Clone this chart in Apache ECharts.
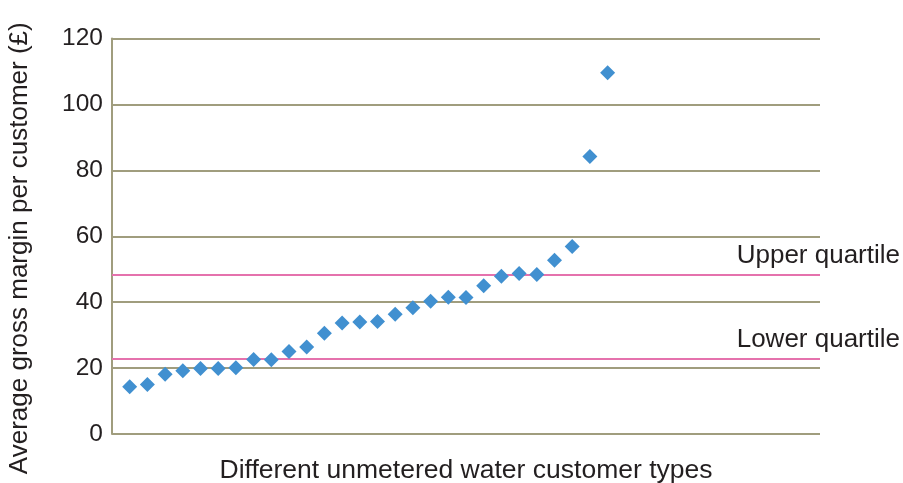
<!DOCTYPE html>
<html>
<head>
<meta charset="utf-8">
<script src="https://cdn.jsdelivr.net/npm/echarts@6/dist/echarts.min.js"></script>
<style>html,body{margin:0;padding:0;background:#fff}#c{width:903px;height:483px}</style>
</head>
<body>
<div id="c"></div>
<script>
// Data
const customerTypeIndex = [1,2,3,4,5,6,7,8,9,10,11,12,13,14,15,16,17,18,19,20,21,22,23,24,25,26,27,28];
const grossMargin = [14.3,15.0,18.1,19.2,19.9,19.9,20.1,22.6,22.5,25.0,26.4,30.6,33.7,34.0,34.1,36.3,38.3,40.3,41.5,41.4,45.0,47.9,48.7,48.4,52.7,56.9,84.2,109.6];
const upperQuartile = 48.4;
const lowerQuartile = 22.8;
const quartileLabels = ['Upper quartile', 'Lower quartile'];
const yTicks = [0,20,40,60,80,100,120];
const xTitle = 'Different unmetered water customer types';
const yTitle = 'Average gross margin per customer (£)';

const FONT = "'Liberation Sans', Arial, Helvetica, sans-serif";
const chart = echarts.init(document.getElementById('c'));
const pts = customerTypeIndex.map((x, i) => [x, grossMargin[i]]);

chart.setOption({
  animation: false,
  backgroundColor: '#ffffff',
  grid: { left: 112, right: 83, top: 38.5, bottom: 49, containLabel: false, outerBoundsMode: 'none' },
  xAxis: {
    type: 'value', min: 0, max: 40,
    axisLine: { show: false },
    axisTick: { show: false },
    axisLabel: { show: false },
    splitLine: { show: false },
    name: xTitle, nameLocation: 'middle', nameGap: 23,
    nameTextStyle: { fontFamily: FONT, fontSize: 26.5, color: '#231f20' }
  },
  yAxis: {
    type: 'value', min: yTicks[0], max: yTicks[yTicks.length - 1], interval: 20,
    axisLine: { show: true, onZero: false, lineStyle: { color: '#a09d7e', width: 2 } },
    axisTick: { show: false },
    axisLabel: { fontFamily: FONT, fontSize: 24.5, color: '#231f20', margin: 9 },
    splitLine: { show: true, lineStyle: { color: '#a09d7e', width: 2 } },
    name: yTitle, nameLocation: 'middle', nameGap: 79, nameRotate: 90,
    nameTextStyle: { fontFamily: FONT, fontSize: 26, color: '#231f20', padding: [0, 24, 0, 0] }
  },
  series: [{
    type: 'scatter',
    data: pts,
    symbol: 'diamond',
    symbolSize: 15,
    itemStyle: { color: '#4190d0', opacity: 1 },
    z: 5,
    markLine: {
      silent: true,
      symbol: 'none',
      label: { show: false },
      lineStyle: { color: '#e572ad', width: 2, type: 'solid' },
      data: [{ yAxis: upperQuartile }, { yAxis: lowerQuartile }]
    }
  }]
});

const yU = chart.convertToPixel({ yAxisIndex: 0 }, upperQuartile);
const yL = chart.convertToPixel({ yAxisIndex: 0 }, lowerQuartile);
chart.setOption({
  graphic: [
    { type: 'text', right: 3, top: yU - 32, style: { text: quartileLabels[0], font: '26px ' + FONT, fill: '#231f20' } },
    { type: 'text', right: 3, top: yL - 32, style: { text: quartileLabels[1], font: '26px ' + FONT, fill: '#231f20' } }
  ]
});
</script>
</body>
</html>
